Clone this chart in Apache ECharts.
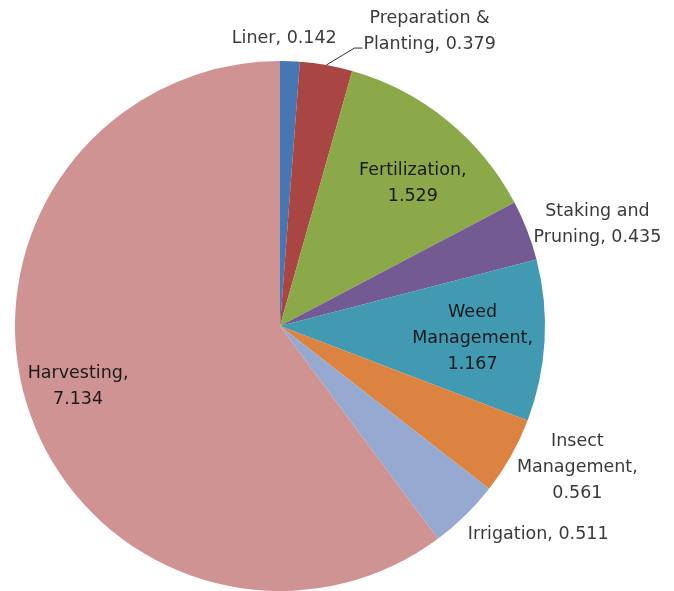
<!DOCTYPE html>
<html><head><meta charset="utf-8">
<script src="https://cdn.jsdelivr.net/npm/echarts@6/dist/echarts.min.js"></script>
<style>html,body{margin:0;padding:0;background:#fff}#c{width:674px;height:591px}</style>
</head><body><div id="c"></div>
<script>
// Data
const categories = ['Liner', 'Preparation & Planting', 'Fertilization', 'Staking and Pruning',
  'Weed Management', 'Insect Management', 'Irrigation', 'Harvesting'];
const values = [0.142, 0.379, 1.529, 0.435, 1.167, 0.561, 0.511, 7.134];
const labelTemplates = ['Liner, {v}', 'Preparation &\nPlanting, {v}', 'Fertilization,\n{v}',
  'Staking and\nPruning, {v}', 'Weed\nManagement,\n{v}', 'Insect\nManagement,\n{v}',
  'Irrigation, {v}', 'Harvesting,\n{v}'];
const colors = ['#4677B3', '#A94543', '#8CA94A', '#735A93', '#4199B2', '#DD8341', '#95A9D1', '#D09393'];

// Geometry / label placement (polar: radius factor, angle shift in degrees, relative to slice mid-angle)
const cx = 280, cy = 326, R = 265;
const labelPolar = [[1.087, -1.3], [1.245, 16.9], [0.736, 3.9], [1.257, 3.5], [0.728, 0.4],
  [1.242, -4.0], [1.253, -6.7], [0.796, 1.5]];
const insideIdx = [2, 4, 7];

const total = values.reduce((a, b) => a + b, 0);
const midAngles = [];
let acc = 0;
values.forEach(v => { midAngles.push((acc + v / 2) / total * 360); acc += v; });
function polar(rf, deg) {
  const a = deg * Math.PI / 180;
  return [cx + rf * R * Math.sin(a), cy - rf * R * Math.cos(a)];
}

const chart = echarts.init(document.getElementById('c'));
chart.setOption({
  animation: false,
  series: [{
    type: 'pie',
    center: [cx, cy],
    radius: R,
    startAngle: 90,
    clockwise: true,
    avoidLabelOverlap: false,
    data: categories.map((n, i) => ({
      name: n, value: values[i],
      itemStyle: { color: colors[i] },
      label: {
        position: insideIdx.includes(i) ? 'inside' : 'outside',
        color: insideIdx.includes(i) ? '#1a1a1a' : '#3a3a3a'
      },
      labelLine: { show: i === 1, lineStyle: { color: '#333', width: 1 } }
    })),
    label: {
      show: true,
      fontFamily: 'DejaVu Sans',
      fontSize: 17.5,
      lineHeight: 26,
      align: 'center',
      formatter: p => labelTemplates[p.dataIndex].replace('{v}', values[p.dataIndex].toFixed(3))
    },
    labelLayout: function (params) {
      const i = params.dataIndex;
      const pos = polar(labelPolar[i][0], midAngles[i] + labelPolar[i][1]);
      const res = { x: pos[0], y: pos[1], align: 'center', verticalAlign: 'middle' };
      if (i === 1) {
        const rim = polar(1, midAngles[i]);
        const elbow = [rim[0] + 28, rim[1] - 17];
        const w = params.labelRect.width;
        res.labelLinePoints = [rim, elbow, [pos[0] - w / 2 - 1, elbow[1]]];
      }
      return res;
    },
    itemStyle: { borderWidth: 0 },
    emphasis: { disabled: true }
  }]
});
</script></body></html>
